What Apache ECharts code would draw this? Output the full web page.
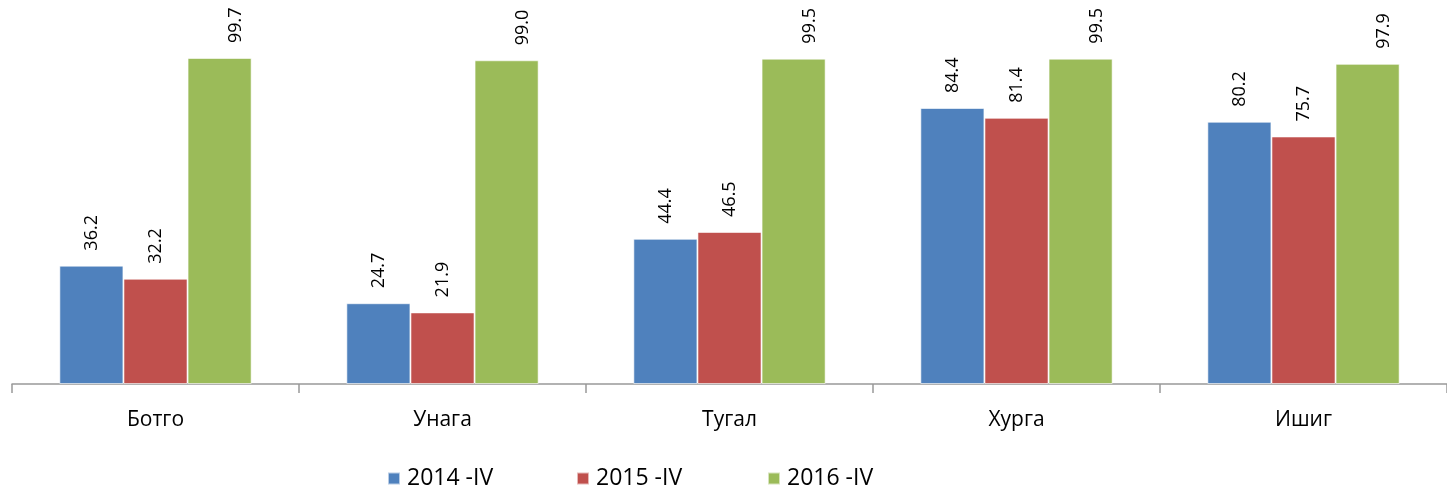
<!DOCTYPE html>
<html>
<head>
<meta charset="utf-8">
<script src="https://cdn.jsdelivr.net/npm/echarts@6/dist/echarts.min.js"></script>
<style>
  html, body { margin: 0; padding: 0; background: #fff; }
  #chart { width: 1447px; height: 489px; }
</style>
</head>
<body>
<div id="chart"></div>
<script>
// categories and values
var categories = ['Ботго', 'Унага', 'Тугал', 'Хурга', 'Ишиг'];
var seriesNames = ['2014 -IV', '2015 -IV', '2016 -IV'];
var v2014 = [36.2, 24.7, 44.4, 84.4, 80.2];
var v2015 = [32.2, 21.9, 46.5, 81.4, 75.7];
var v2016 = [99.7, 99.0, 99.5, 99.5, 97.9];
var colors = ['#4f81bd', '#c0504d', '#9bbb59'];
var legendLeft = [382, 571, 762];

var font = '"Open Sans", "Noto Sans", sans-serif';

function makeSeries(name, data, color, labelShift) {
    return {
        name: name,
        type: 'bar',
        data: data,
        barGap: '0%',
        barCategoryGap: '33%',
        itemStyle: { color: color, borderColor: 'rgba(255,255,255,0.6)', borderWidth: 1 },
        label: {
            show: true,
            position: 'top',
            rotate: 90,
            distance: 15,
            // offset works in the rotated frame: y moves the text sideways on screen
            offset: [0, labelShift],
            align: 'left',
            verticalAlign: 'middle',
            formatter: function (p) { return p.value.toFixed(1); },
            fontFamily: font,
            fontSize: 18,
            color: '#000'
        }
    };
}

// one legend per series so the spacing matches the original
var legends = seriesNames.map(function (name, i) {
    return {
        left: legendLeft[i],
        top: 462,
        itemWidth: 12,
        itemHeight: 12,
        icon: 'rect',
        data: [name],
        textStyle: { fontFamily: font, fontSize: 23, color: '#000', padding: [0, 0, 0, 2] }
    };
});

var chart = echarts.init(document.getElementById('chart'));
chart.setOption({
    animation: false,
    textStyle: { fontFamily: font },
    grid: { left: 12, right: 0, top: 57, bottom: 105, containLabel: false },
    legend: legends,
    xAxis: {
        type: 'category',
        data: categories,
        axisLine: { lineStyle: { color: '#999', width: 1.5 } },
        axisTick: { show: true, length: 9, lineStyle: { color: '#999', width: 1.5 } },
        axisLabel: { fontFamily: font, fontSize: 21, color: '#000', margin: 26 }
    },
    yAxis: {
        type: 'value',
        min: 0,
        max: 100,
        show: false,
        splitLine: { show: false }
    },
    series: [
        makeSeries(seriesNames[0], v2014, colors[0], 0),
        makeSeries(seriesNames[1], v2015, colors[1], 0),
        // the tall bars have their labels pushed right, as in the original
        makeSeries(seriesNames[2], v2016, colors[2], 16)
    ]
});
</script>
</body>
</html>
